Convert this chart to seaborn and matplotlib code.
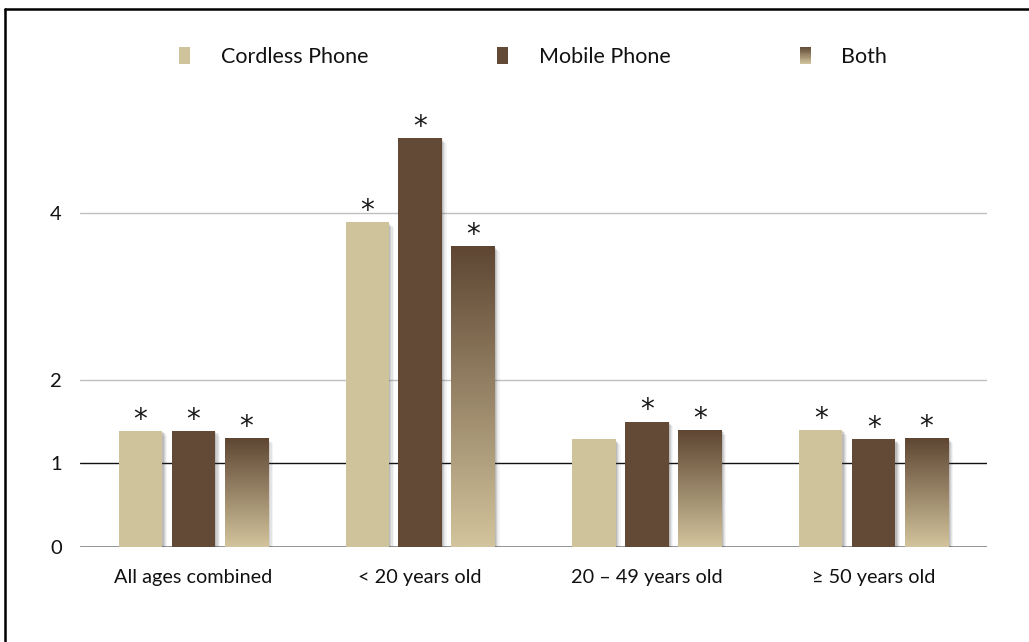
import numpy as np
import pandas as pd
import matplotlib
matplotlib.use("Agg")
import matplotlib.pyplot as plt
import matplotlib.patheffects as pe
from matplotlib.lines import Line2D
from matplotlib.patches import Rectangle
from matplotlib.legend_handler import HandlerBase
import seaborn as sns

# ---- data ----
groups = ["All ages combined", "< 20 years old", "20 – 49 years old", "≥ 50 years old"]
series = ["Cordless Phone", "Mobile Phone", "Both"]
cordless = [1.39, 3.89, 1.29, 1.40]
mobile = [1.39, 4.90, 1.50, 1.29]
both = [1.30, 3.60, 1.40, 1.30]
significant_cordless = [True, True, False, True]
significant_mobile = [True, True, True, True]
significant_both = [True, True, True, True]
yticks = [0, 1, 2, 4]

c_light = "#cfc39b"
c_dark = "#624a37"
grad_top = np.array([0x5e, 0x46, 0x33]) / 255
grad_bot = np.array([0xd2, 0xc4, 0x9c]) / 255

df = pd.DataFrame({
    "group": groups * 3,
    "series": [s for s in series for _ in groups],
    "value": cordless + mobile + both,
})

sns.set_theme(style="white")
plt.rcParams["font.family"] = ["Lato", "DejaVu Sans"]

fig = plt.figure(figsize=(10.29, 6.42), dpi=100)
ax = fig.add_axes([80 / 1029, 1 - 546.7 / 642, 907 / 1029, 458.7 / 642])

sns.barplot(data=df, x="group", y="value", hue="series", order=groups,
            hue_order=series, palette=[c_light, c_dark, "#a08c6c"],
            width=0.70, gap=0.18, ax=ax, legend=False, saturation=1,
            edgecolor="none", linewidth=0)

shadow = [pe.SimplePatchShadow(offset=(o, -o), shadow_rgbFace="#444444", alpha=a)
          for o, a in [(3.5, 0.06), (2.6, 0.09), (1.8, 0.12), (1.0, 0.15)]] + [pe.Normal()]

# gradient for "Both"
n = 256
t = np.linspace(0, 1, n)[:, None]
grad = grad_top[None, :] * (1 - t) + grad_bot[None, :] * t  # top->bottom
grad = grad[:, None, :]

for ci, cont in enumerate(ax.containers):
    for bar in cont:
        bar.set_path_effects(shadow)
        bar.set_zorder(2)
        if ci == 2:
            x0, y0 = bar.get_x(), bar.get_y()
            w, h = bar.get_width(), bar.get_height()
            im = ax.imshow(grad, extent=[x0, x0 + w, y0, y0 + h], aspect="auto",
                           origin="upper", zorder=3, interpolation="bilinear")
            im.set_clip_path(bar)

ax.set_xlim(-0.5, 3.5)
ax.set_ylim(0, 5.5)

# asterisks
sig = [significant_cordless, significant_mobile, significant_both]
for ci, cont in enumerate(ax.containers):
    for gi, bar in enumerate(cont):
        if sig[ci][gi]:
            ax.annotate("*", (bar.get_x() + bar.get_width() / 2, bar.get_height()),
                        xytext=(0, -2), textcoords="offset points",
                        ha="center", va="bottom", fontsize=20, color="#1a1a1a",
                        family=["DejaVu Sans"])

# grid lines
for yv in yticks:
    if yv == 0:
        ax.axhline(yv, color="#8a8a8a", lw=2, zorder=1)
    elif yv == 1:
        ax.axhline(yv, color="#111111", lw=1, zorder=1)
    else:
        ax.axhline(yv, color="#c0c0c0", lw=1, zorder=1)

sns.despine(ax=ax, left=True, bottom=True)
ax.set_yticks(yticks)
ax.set_yticklabels([str(v) for v in yticks], fontsize=14.5, color="#111111")
ax.tick_params(axis="y", length=0, pad=13)
ax.tick_params(axis="x", length=0, pad=16, labelsize=14.3, labelcolor="#111111")
ax.set_xlabel("")
ax.set_ylabel("")


# legend with gradient handle
class GradHandler(HandlerBase):
    def create_artists(self, legend, orig_handle, xdescent, ydescent, width,
                       height, fontsize, trans):
        arts = []
        k = 20
        for i in range(k):
            tt = (i + 0.5) / k
            col = grad_top * (1 - tt) + grad_bot * tt
            r = Rectangle((-xdescent, -ydescent + height * (1 - (i + 1) / k)),
                          width, height / k + 0.3, facecolor=col,
                          edgecolor="none", transform=trans)
            arts.append(r)
        return arts


class GradProxy:
    pass


handles = [Rectangle((0, 0), 1, 1, facecolor=c_light, edgecolor="none"),
           Rectangle((0, 0), 1, 1, facecolor=c_dark, edgecolor="none"),
           GradProxy()]
fig.legend(handles, series, loc="center", bbox_to_anchor=(0.518, 1 - 57 / 642),
           ncol=3, frameon=False, fontsize=15.5, handlelength=0.52,
           handleheight=0.85, handletextpad=1.4, columnspacing=6.0,
           handler_map={GradProxy: GradHandler()}, labelcolor="#111111")

# outer frame (left and top)
fig.add_artist(Line2D([4.5 / 1029, 4.5 / 1029], [0, 1 - 8.5 / 642], color="black",
                      lw=1.8, transform=fig.transFigure))
fig.add_artist(Line2D([4.5 / 1029, 1], [1 - 8.5 / 642, 1 - 8.5 / 642], color="black",
                      lw=1.8, transform=fig.transFigure))

fig.savefig("out.png", dpi=100)
